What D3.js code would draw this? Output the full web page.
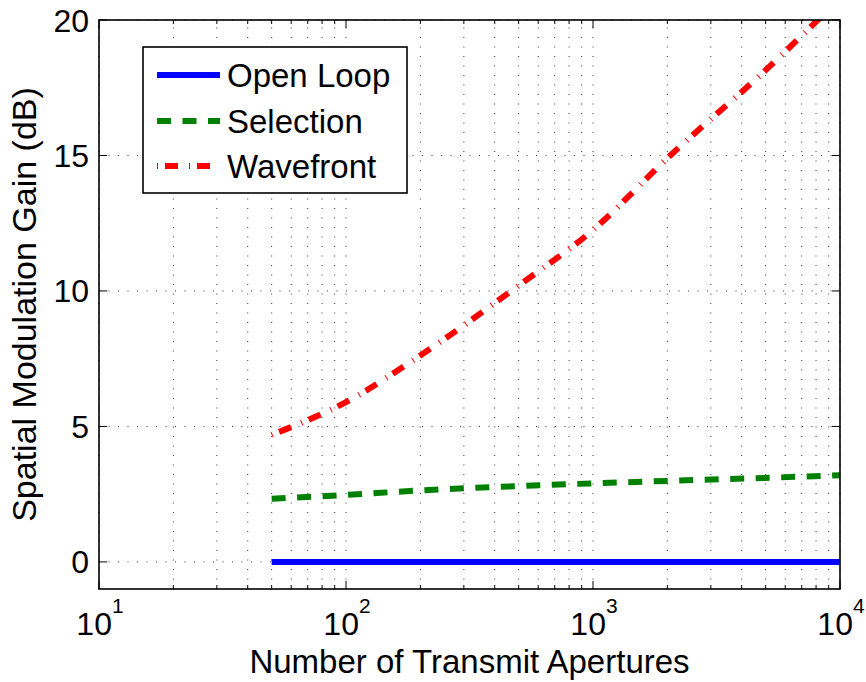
<!DOCTYPE html>
<html lang="en">
<head>
  <meta charset="UTF-8">
  <title>Spatial Modulation Gain</title>
  <script src="https://d3js.org/d3.v7.min.js"></script>
  <style>
    body {
      margin: 0;
      background-color: #fff;
    }
    svg text {
      font-family: "Liberation Sans", Arial, Helvetica, sans-serif;
      fill: #000;
    }
  </style>
</head>
<body>
  <svg id="chart" width="866" height="682"></svg>

  <script>
    // data
    const apertures = [50, 100, 200, 500, 1000, 2000, 5000, 10000];
    const openLoop = [0, 0, 0, 0, 0, 0, 0, 0];
    const selection = [2.33, 2.47, 2.64, 2.80, 2.90, 2.99, 3.10, 3.20];
    const wavefront = [4.69, 5.90, 7.62, 10.2, 12.25, 14.9, 18.15, 20.8];

    const xMajor = [10, 100, 1000, 10000];
    const xExponents = ["1", "2", "3", "4"];
    const yTicks = [0, 5, 10, 15, 20];
    const seriesNames = ["Open Loop", "Selection", "Wavefront"];

    const svg = d3.select("#chart");

    const plotLeft = 99, plotRight = 840, plotTop = 20, plotBottom = 589;

    const x = d3.scaleLog().domain([10, 10000]).range([plotLeft, plotRight]);
    const y = d3.scaleLinear().domain([-1, 20]).range([plotBottom, plotTop]);

    // dotted grid
    const grid = svg.append("g")
      .attr("stroke", "#222")
      .attr("stroke-width", 0.9)
      .attr("stroke-dasharray", "1,8.5");

    grid.selectAll(".vgrid")
      .data(x.ticks())
      .enter()
      .append("line")
      .attr("x1", d => x(d))
      .attr("x2", d => x(d))
      .attr("y1", plotBottom)
      .attr("y2", plotTop);

    grid.selectAll(".hgrid")
      .data(yTicks)
      .enter()
      .append("line")
      .attr("x1", plotLeft)
      .attr("x2", plotRight)
      .attr("y1", d => y(d))
      .attr("y2", d => y(d));

    // ticks (inside, on all four sides)
    const ticks = svg.append("g").attr("stroke", "#000").attr("stroke-width", 1);
    x.ticks().forEach(v => {
      const len = xMajor.includes(v) ? 8 : 4;
      ticks.append("line").attr("x1", x(v)).attr("x2", x(v)).attr("y1", plotBottom).attr("y2", plotBottom - len);
      ticks.append("line").attr("x1", x(v)).attr("x2", x(v)).attr("y1", plotTop).attr("y2", plotTop + len);
    });
    yTicks.forEach(v => {
      ticks.append("line").attr("x1", plotLeft).attr("x2", plotLeft + 8).attr("y1", y(v)).attr("y2", y(v));
      ticks.append("line").attr("x1", plotRight).attr("x2", plotRight - 8).attr("y1", y(v)).attr("y2", y(v));
    });

    // clip for data lines
    svg.append("clipPath")
      .attr("id", "plotClip")
      .append("rect")
      .attr("x", plotLeft)
      .attr("y", plotTop)
      .attr("width", plotRight - plotLeft)
      .attr("height", plotBottom - plotTop);

    const series = [
      { name: seriesNames[0], values: openLoop, color: "#0000ff", dash: null },
      { name: seriesNames[1], values: selection, color: "#008000", dash: "14,11.5" },
      { name: seriesNames[2], values: wavefront, color: "#ff0000", dash: "1,7,13,11" }
    ];

    const line = d3.line()
      .x(d => x(d[0]))
      .y(d => y(d[1]))
      .curve(d3.curveMonotoneX);

    const plot = svg.append("g").attr("clip-path", "url(#plotClip)");

    plot.selectAll("path")
      .data(series)
      .enter()
      .append("path")
      .attr("d", s => line(apertures.map((a, i) => [a, s.values[i]])))
      .attr("fill", "none")
      .attr("stroke", s => s.color)
      .attr("stroke-width", 6)
      .attr("stroke-dasharray", s => s.dash);

    // frame
    svg.append("rect")
      .attr("x", plotLeft)
      .attr("y", plotTop)
      .attr("width", plotRight - plotLeft)
      .attr("height", plotBottom - plotTop)
      .attr("fill", "none")
      .attr("stroke", "#000")
      .attr("stroke-width", 1.6);

    // x tick labels 10^n
    xMajor.forEach((v, i) => {
      const t = svg.append("text")
        .attr("x", x(v) + 1)
        .attr("y", 635)
        .attr("text-anchor", "middle")
        .style("font-size", "32px");
      t.append("tspan").text("10");
      t.append("tspan")
        .attr("dy", -22)
        .style("font-size", "21px")
        .text(xExponents[i]);
    });

    // y tick labels
    svg.selectAll(".ylab")
      .data(yTicks)
      .enter()
      .append("text")
      .attr("x", 89)
      .attr("y", d => y(d))
      .attr("dy", "0.36em")
      .attr("text-anchor", "end")
      .style("font-size", "32px")
      .text(d => d);

    // axis titles
    svg.append("text")
      .attr("x", (plotLeft + plotRight) / 2)
      .attr("y", 673)
      .attr("text-anchor", "middle")
      .style("font-size", "33px")
      .text("Number of Transmit Apertures");

    svg.append("text")
      .attr("transform", `translate(36,${(plotTop + plotBottom) / 2}) rotate(-90)`)
      .attr("text-anchor", "middle")
      .style("font-size", "34px")
      .text("Spatial Modulation Gain (dB)");

    // legend
    const legend = svg.append("g");
    legend.append("rect")
      .attr("x", 143)
      .attr("y", 47)
      .attr("width", 264)
      .attr("height", 146)
      .attr("fill", "#fff")
      .attr("stroke", "#000")
      .attr("stroke-width", 1.6);

    const rowY = [75, 121, 166];
    series.forEach((s, i) => {
      legend.append("line")
        .attr("x1", 157)
        .attr("x2", 220)
        .attr("y1", rowY[i])
        .attr("y2", rowY[i])
        .attr("stroke", s.color)
        .attr("stroke-width", 6)
        .attr("stroke-dasharray", s.dash);
      legend.append("text")
        .attr("x", 227)
        .attr("y", rowY[i] + 12)
        .style("font-size", "33px")
        .text(s.name);
    });
  </script>
</body>
</html>
